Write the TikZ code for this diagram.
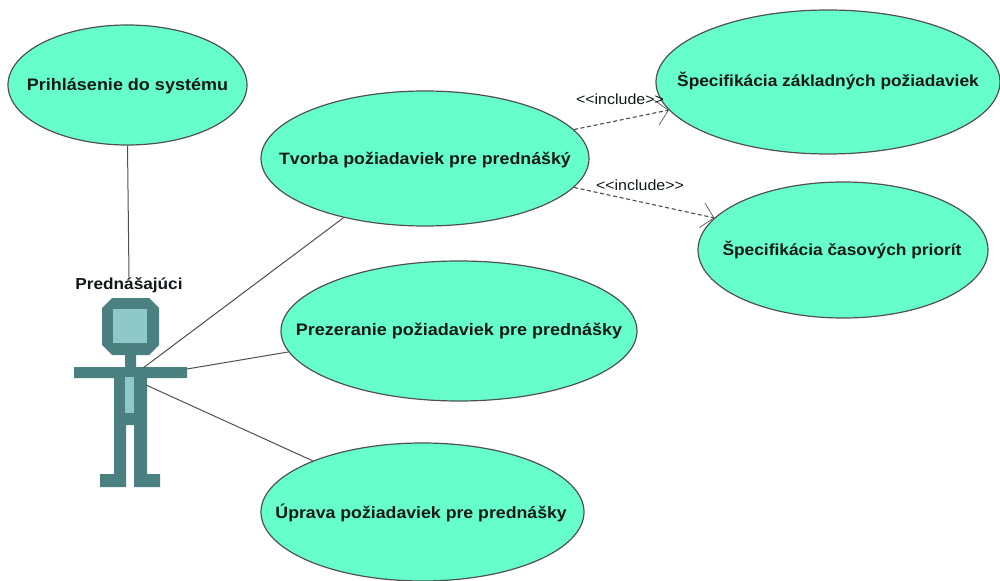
\documentclass[tikz,border=0pt]{standalone}
\usepackage{fontspec}
\setmainfont{Liberation Sans}
\newfontfamily\ucfont[FakeStretch=1.08]{Liberation Sans}
\usetikzlibrary{shapes.geometric,arrows.meta}
\definecolor{ucfill}{HTML}{66FFCC}
\definecolor{ucline}{HTML}{505050}
\definecolor{uctextc}{HTML}{101818}
\definecolor{actdark}{HTML}{4A8080}
\definecolor{actlight}{HTML}{8FC8C8}
\newcommand{\uctext}[3]{\ucfont\fontsize{#1}{14pt}\bfseries\color{uctextc}\makebox[0pt]{\raisebox{#2}[0pt][0pt]{#3}}}
\tikzset{
 usecase/.style={ellipse,draw=ucline,line width=0.9pt,fill=ucfill,inner sep=0pt},
 assoc/.style={draw=ucline,line width=0.75pt},
 incl/.style={draw=ucline,line width=0.85pt,dash pattern=on 3pt off 2pt,-{Straight Barb[length=9pt,width=19pt,line width=0.5pt]}},
 stereo/.style={font=\ucfont\fontsize{11.1pt}{14pt}\selectfont,inner sep=0pt,text=uctextc},
 actlabel/.style={font=\ucfont\fontsize{11.95pt}{14pt}\bfseries,inner sep=0pt,text=uctextc},
}
\begin{document}
\begin{tikzpicture}[x=0.75pt,y=-0.75pt]
\useasboundingbox (0,0) rectangle (1000,581);
\node[usecase,minimum width=179.25pt,minimum height=90pt] (login) at (127.5,85) {\uctext{12.5pt}{-4.3pt}{Prihlásenie do systému}};
\node[usecase,minimum width=246pt,minimum height=101.25pt] (tvorba) at (425,158.5) {\uctext{12.36pt}{-4.35pt}{Tvorba požiadaviek pre prednášký}};
\node[usecase,minimum width=258pt,minimum height=108pt] (zakl) at (828,82) {\uctext{12.04pt}{-3.5pt}{Špecifikácia základných požiadaviek}};
\node[usecase,minimum width=217.5pt,minimum height=102pt] (cas) at (843,250) {\hspace{-1.5pt}\uctext{12.04pt}{-3.75pt}{Špecifikácia časových priorít}};
\node[usecase,minimum width=267pt,minimum height=105pt] (prez) at (459,331) {\uctext{12.5pt}{-3.5pt}{Prezeranie požiadaviek pre prednášky}};
\node[usecase,minimum width=242.25pt,minimum height=103.5pt] (uprava) at (422.5,512) {\hspace{-2pt}\uctext{12.3pt}{-4.7pt}{Úprava požiadaviek pre prednášky}};
\node[actlabel] (actor) at (129,285) {Prednášajúci};
% actor figure
\fill[actdark] (112,298) -- (149,298) -- (159,308) -- (159,345) -- (149,355) -- (136,355) -- (136,367) -- (187,367) -- (187,378) -- (147,378) -- (147,474) -- (160,474) -- (160,487) -- (134,487) -- (134,425) -- (126,425) -- (126,487) -- (100,487) -- (100,474) -- (114,474) -- (114,378) -- (74,378) -- (74,367) -- (125,367) -- (125,355) -- (112,355) -- (102,345) -- (102,308) -- cycle;
\fill[actlight] (113,309) rectangle (147,343);
\fill[actlight] (125,377) rectangle (134,413);
\coordinate (neckR) at (143,368);
\coordinate (armR) at (187,369);
\coordinate (hipR) at (146,385);
% connectors
\draw[assoc] (login.south) -- (actor.north);
\draw[assoc] (neckR) -- (tvorba.216.5);
\draw[assoc] (armR) -- (prez.187.1);
\draw[assoc] (hipR) -- (uprava.155.4);
\draw[incl] (tvorba.11.3) -- (zakl.190.3);
\draw[incl] (tvorba.-11.4) -- (cas.166.5);
\node[stereo] (inc1) at (620,99) {{<}{<}include{>}{>}};
\node[stereo] (inc2) at (640,185) {{<}{<}include{>}{>}};
\end{tikzpicture}
\end{document}
